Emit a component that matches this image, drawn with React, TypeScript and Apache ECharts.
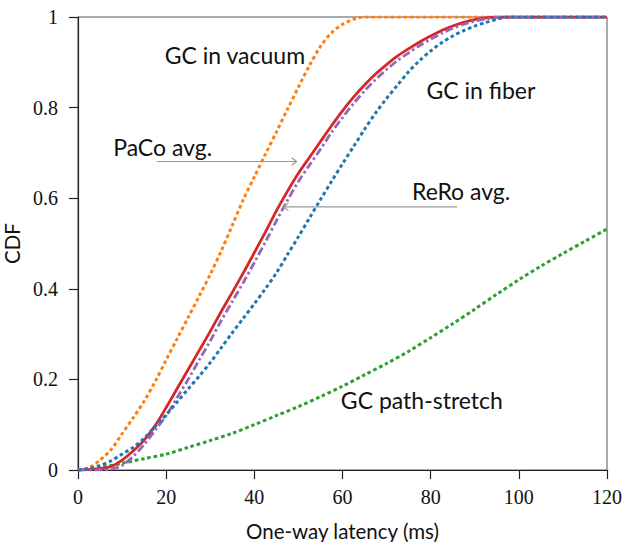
import React, { useEffect, useRef } from "react";
import * as echarts from "echarts";

// One-way latency (ms) sample points and CDF values
const vacuumX = [0, 2.5, 5, 7.5, 10, 12.5, 15, 17.5, 20, 22.5, 25, 27.5, 30, 32.5, 35, 37.5, 40, 42.5, 45, 47.5, 50, 52.5, 55, 57.5, 60, 62.5, 65, 120];
const vacuumY = [0, 0.005, 0.022, 0.045, 0.08, 0.115, 0.152, 0.195, 0.243, 0.29, 0.337, 0.384, 0.432, 0.484, 0.54, 0.597, 0.647, 0.697, 0.746, 0.796, 0.845, 0.893, 0.935, 0.965, 0.984, 0.995, 1, 1];

const fiberX = [0, 2.5, 5, 7.5, 10, 12.5, 15, 17.5, 20, 22.5, 25, 27.5, 30, 32.5, 35, 37.5, 40, 42.5, 45, 47.5, 50, 52.5, 55, 57.5, 60, 62.5, 65, 67.5, 70, 72.5, 75, 77.5, 80, 82.5, 85, 87.5, 90, 92.5, 95, 97.5, 120];
const fiberY = [0, 0.003, 0.01, 0.02, 0.035, 0.05, 0.07, 0.096, 0.122, 0.15, 0.179, 0.207, 0.237, 0.27, 0.303, 0.335, 0.367, 0.4, 0.435, 0.475, 0.515, 0.556, 0.597, 0.637, 0.676, 0.714, 0.752, 0.788, 0.82, 0.85, 0.879, 0.904, 0.925, 0.943, 0.958, 0.97, 0.98, 0.988, 0.995, 1, 1];

const stretchX = [0, 5, 10, 15, 20, 25, 30, 35, 40, 45, 50, 55, 60, 65, 70, 75, 80, 85, 90, 95, 100, 105, 110, 115, 120];
const stretchY = [0, 0.005, 0.015, 0.025, 0.035, 0.05, 0.065, 0.081, 0.1, 0.12, 0.14, 0.162, 0.185, 0.21, 0.235, 0.262, 0.292, 0.323, 0.355, 0.388, 0.42, 0.45, 0.478, 0.505, 0.532];

const pacoX = [0, 5, 7.5, 10, 12.5, 15, 17.5, 20, 22.5, 25, 27.5, 30, 32.5, 35, 37.5, 40, 42.5, 45, 47.5, 50, 52.5, 55, 57.5, 60, 62.5, 65, 67.5, 70, 72.5, 75, 77.5, 80, 82.5, 85, 87.5, 90, 92.5, 95, 120];
const pacoY = [0, 0.003, 0.008, 0.022, 0.042, 0.066, 0.098, 0.138, 0.18, 0.222, 0.264, 0.306, 0.35, 0.392, 0.435, 0.48, 0.525, 0.572, 0.615, 0.655, 0.69, 0.725, 0.76, 0.793, 0.823, 0.85, 0.874, 0.895, 0.914, 0.93, 0.945, 0.958, 0.97, 0.98, 0.988, 0.994, 0.998, 1, 1];

const reroX = [0, 5, 7.5, 10, 12.5, 15, 17.5, 20, 22.5, 25, 27.5, 30, 32.5, 35, 37.5, 40, 42.5, 45, 47.5, 50, 52.5, 55, 57.5, 60, 62.5, 65, 67.5, 70, 72.5, 75, 77.5, 80, 82.5, 85, 87.5, 90, 92.5, 95, 97.5, 120];
const reroY = [0, 0, 0.002, 0.01, 0.03, 0.056, 0.088, 0.12, 0.16, 0.2, 0.243, 0.285, 0.33, 0.372, 0.414, 0.458, 0.503, 0.55, 0.595, 0.637, 0.673, 0.708, 0.745, 0.778, 0.809, 0.837, 0.862, 0.884, 0.904, 0.921, 0.937, 0.951, 0.964, 0.975, 0.984, 0.991, 0.996, 0.999, 1, 1];

// Annotation labels (data coordinates)
const labels = [
  { text: "GC in vacuum", x: 35.6, y: 0.917 },
  { text: "GC in fiber", x: 91.4, y: 0.839 },
  { text: "PaCo avg.", x: 19.2, y: 0.714 },
  { text: "ReRo avg.", x: 86.9, y: 0.615 },
  { text: "GC path-stretch", x: 78, y: 0.154 },
];
// Arrows: from -> to (data coordinates)
const arrows = [
  { from: [17.9, 0.681], to: [49.6, 0.681] },
  { from: [86.0, 0.581], to: [46.6, 0.581] },
];

const zip = (xs: number[], ys: number[]) => xs.map((x, i) => [x, ys[i]]);

const SANS = "Lato";
const SERIF = "Liberation Serif";

export default function App() {
  const ref = useRef<HTMLDivElement>(null);
  useEffect(() => {
    if (!ref.current) return;
    const chart = echarts.init(ref.current, null, { renderer: "svg" });
    const dotted = (color: string) => ({
      color,
      width: 3,
      type: [3.6, 2.8] as any,
      cap: "butt" as const,
    });
    const tickLabel = {
      fontFamily: SERIF,
      fontSize: 20,
      color: "#111",
    };
    chart.setOption({
      animation: false,
      backgroundColor: "#fff",
      grid: {
        left: 78,
        right: 17,
        top: 17,
        bottom: 72,
        show: true,
        borderColor: "#555",
        borderWidth: 1,
        containLabel: false,
        outerBoundsMode: "none",
      },
      xAxis: {
        type: "value",
        min: 0,
        max: 120,
        interval: 20,
        name: "One-way latency (ms)",
        nameLocation: "middle",
        nameGap: 50,
        nameTextStyle: { fontFamily: SANS, fontSize: 20.5, color: "#111" },
        axisLine: { show: true, onZero: false, lineStyle: { color: "#222", width: 1.2 } },
        axisTick: { show: true, length: 9, lineStyle: { color: "#222", width: 1.2 } },
        axisLabel: { margin: 17, ...tickLabel },
        splitLine: { show: false },
      },
      yAxis: {
        type: "value",
        min: 0,
        max: 1,
        interval: 0.2,
        name: "CDF",
        nameLocation: "middle",
        nameGap: 47,
        nameTextStyle: { fontFamily: SANS, fontSize: 20.5, color: "#111" },
        axisLine: { show: true, onZero: false, lineStyle: { color: "#222", width: 1.2 } },
        axisTick: { show: true, length: 9, lineStyle: { color: "#222", width: 1.2 } },
        axisLabel: {
          margin: 20,
          ...tickLabel,
          formatter: (v: number) => String(+v.toFixed(1)),
        },
        splitLine: { show: false },
      },
      series: [
        {
          name: "GC path-stretch",
          type: "line",
          data: zip(stretchX, stretchY),
          showSymbol: false,
          smooth: 0.3,
          lineStyle: dotted("#2ca02c"),
        },
        {
          name: "GC in vacuum",
          type: "line",
          data: zip(vacuumX, vacuumY),
          showSymbol: false,
          smooth: 0.3,
          lineStyle: dotted("#ff7f0e"),
        },
        {
          name: "PaCo avg.",
          type: "line",
          data: zip(pacoX, pacoY),
          showSymbol: false,
          smooth: 0.3,
          lineStyle: { color: "#d62728", width: 2.8 },
        },
        {
          name: "ReRo avg.",
          type: "line",
          data: zip(reroX, reroY),
          showSymbol: false,
          smooth: 0.3,
          lineStyle: { color: "#9467bd", width: 2.8, type: [8, 3, 2.5, 3] as any, cap: "butt" },
        },
        {
          name: "GC in fiber",
          type: "line",
          data: zip(fiberX, fiberY),
          showSymbol: false,
          smooth: 0.3,
          lineStyle: dotted("#1f77b4"),
        },
      ],
    });

    const graphics: any[] = [];
    labels.forEach((l) => {
      const [px, py] = chart.convertToPixel({ gridIndex: 0 }, [l.x, l.y]) as number[];
      graphics.push({
        type: "text",
        x: px,
        y: py,
        z: 100,
        style: {
          text: l.text,
          fill: "#111",
          fontFamily: SANS,
          fontSize: 23,
          align: "center",
          verticalAlign: "middle",
        },
      });
    });
    arrows.forEach((a) => {
      const [x1, y1] = chart.convertToPixel({ gridIndex: 0 }, a.from) as number[];
      const [x2, y2] = chart.convertToPixel({ gridIndex: 0 }, a.to) as number[];
      const dir = Math.sign(x2 - x1);
      graphics.push({
        type: "line",
        z: 90,
        shape: { x1, y1, x2, y2 },
        style: { stroke: "#999", lineWidth: 1.2 },
      });
      graphics.push({
        type: "polyline",
        z: 90,
        shape: {
          points: [
            [x2 - dir * 5, y2 - 3.8],
            [x2, y2],
            [x2 - dir * 5, y2 + 3.8],
          ],
        },
        style: { stroke: "#999", lineWidth: 1.2, fill: "none" },
      });
    });
    chart.setOption({ graphic: graphics });

    return () => chart.dispose();
  }, []);
  return (
    <div
      ref={ref}
      style={{ position: "fixed", left: 0, top: 0, width: 624, height: 542 }}
    />
  );
}
